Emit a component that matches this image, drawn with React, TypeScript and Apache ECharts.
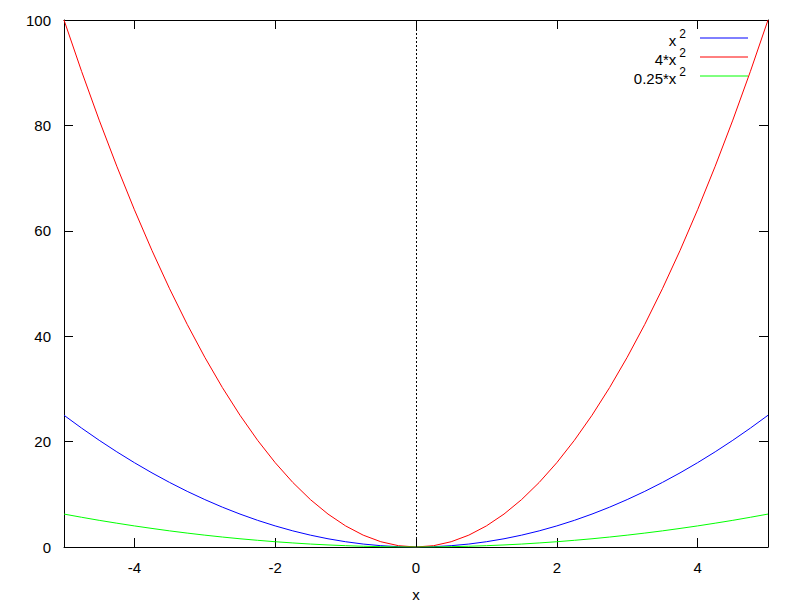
import React, { useEffect, useRef } from "react";
import * as echarts from "echarts";

const xValues = [
  -5, -4.75, -4.5, -4.25, -4, -3.75, -3.5, -3.25, -3, -2.75, -2.5, -2.25, -2, -1.75, -1.5, -1.25, -1, -0.75, -0.5, -0.25,
  0, 0.25, 0.5, 0.75, 1, 1.25, 1.5, 1.75, 2, 2.25, 2.5, 2.75, 3, 3.25, 3.5, 3.75, 4, 4.25, 4.5, 4.75, 5,
];

const seriesX2 = [
  25, 22.56, 20.25, 18.06, 16, 14.06, 12.25, 10.56, 9, 7.56, 6.25, 5.06, 4, 3.06, 2.25, 1.56, 1, 0.56, 0.25, 0.06,
  0, 0.06, 0.25, 0.56, 1, 1.56, 2.25, 3.06, 4, 5.06, 6.25, 7.56, 9, 10.56, 12.25, 14.06, 16, 18.06, 20.25, 22.56, 25,
];

const series4X2 = [
  100, 90.25, 81, 72.25, 64, 56.25, 49, 42.25, 36, 30.25, 25, 20.25, 16, 12.25, 9, 6.25, 4, 2.25, 1, 0.25,
  0, 0.25, 1, 2.25, 4, 6.25, 9, 12.25, 16, 20.25, 25, 30.25, 36, 42.25, 49, 56.25, 64, 72.25, 81, 90.25, 100,
];

const seriesQX2 = [
  6.25, 5.64, 5.06, 4.52, 4, 3.52, 3.06, 2.64, 2.25, 1.89, 1.56, 1.27, 1, 0.77, 0.56, 0.39, 0.25, 0.14, 0.06, 0.02,
  0, 0.02, 0.06, 0.14, 0.25, 0.39, 0.56, 0.77, 1, 1.27, 1.56, 1.89, 2.25, 2.64, 3.06, 3.52, 4, 4.52, 5.06, 5.64, 6.25,
];

const legendNames = ["x", "4*x", "0.25*x"];
const legendColors = ["#0000ff", "#ff0000", "#00ff00"];
const xTicksRange = [-5, 5];
const yTicksRange = [0, 100];

const FONT = "Liberation Sans, Arial, sans-serif";

export default function App() {
  const ref = useRef<HTMLDivElement>(null);

  useEffect(() => {
    if (!ref.current) return;
    const chart = echarts.init(ref.current, null, { renderer: "svg" });

    const pair = (ys: number[]) => xValues.map((x, i) => [x, ys[i]]);

    const axisCommon = {
      axisLine: { show: true, onZero: false, lineStyle: { color: "#000", width: 1 } },
      axisTick: { show: true, inside: true, length: 9, lineStyle: { color: "#000", width: 1 } },
      splitLine: { show: false },
    };

    const xAxisBase = {
      type: "value",
      min: xTicksRange[0],
      max: xTicksRange[1],
      splitNumber: 5,
      ...axisCommon,
    };
    const yAxisBase = {
      type: "value",
      min: yTicksRange[0],
      max: yTicksRange[1],
      interval: 20,
      ...axisCommon,
    };

    const legendGraphics: any[] = [];
    legendNames.forEach((name, i) => {
      const y = 38 + i * 19;
      legendGraphics.push({
        type: "text",
        right: 798 - 686,
        top: y - 10,
        style: {
          text: `{m|${name}}{s|2}`,
          align: "right",
          rich: {
            m: { fontSize: 15, fontFamily: FONT, fill: "#000", verticalAlign: "bottom", lineHeight: 20 },
            s: { fontSize: 12, fontFamily: FONT, fill: "#000", padding: [0, 0, 8, 3], verticalAlign: "bottom", lineHeight: 20 },
          },
        },
      });
      legendGraphics.push({
        type: "line",
        shape: { x1: 700, y1: y, x2: 748, y2: y },
        style: { stroke: legendColors[i], lineWidth: 1 },
      });
    });

    chart.setOption({
      animation: false,
      backgroundColor: "#fff",
      grid: { left: 64, width: 704, top: 20, height: 527 },
      xAxis: [
        {
          ...xAxisBase,
          position: "bottom",
          name: "x",
          nameLocation: "middle",
          nameGap: 40,
          nameTextStyle: { fontSize: 15, fontFamily: FONT, color: "#000" },
          axisLabel: {
            show: true,
            showMinLabel: false,
            showMaxLabel: false,
            margin: 13,
            fontSize: 15,
            fontFamily: FONT,
            color: "#000",
          },
        },
        {
          ...xAxisBase,
          position: "top",
          axisLabel: { show: false },
        },
      ],
      yAxis: [
        {
          ...yAxisBase,
          position: "left",
          axisLabel: { show: true, margin: 13, fontSize: 15, fontFamily: FONT, color: "#000" },
        },
        {
          ...yAxisBase,
          position: "right",
          axisLabel: { show: false },
        },
      ],
      series: [
        {
          name: "x^2",
          type: "line",
          data: pair(seriesX2),
          symbol: "none",
          lineStyle: { color: legendColors[0], width: 1 },
          markLine: {
            silent: true,
            symbol: "none",
            label: { show: false },
            lineStyle: { color: "#000", width: 1, type: [2, 2] },
            data: [{ xAxis: 0 }],
          },
        },
        {
          name: "4*x^2",
          type: "line",
          data: pair(series4X2),
          symbol: "none",
          lineStyle: { color: legendColors[1], width: 1 },
        },
        {
          name: "0.25*x^2",
          type: "line",
          data: pair(seriesQX2),
          symbol: "none",
          lineStyle: { color: legendColors[2], width: 1 },
        },
      ],
      graphic: legendGraphics,
    });

    return () => chart.dispose();
  }, []);

  return (
    <div
      ref={ref}
      style={{ position: "fixed", left: 0, top: 0, width: 798, height: 609, background: "#fff" }}
    />
  );
}
